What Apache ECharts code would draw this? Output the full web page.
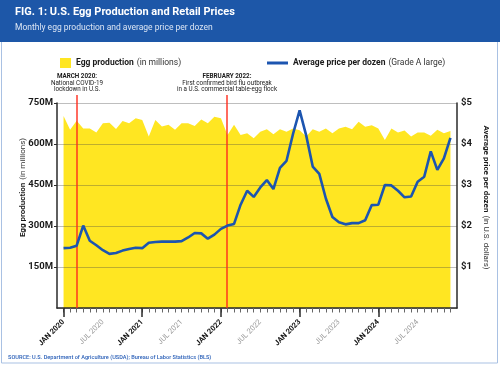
<!DOCTYPE html>
<html><head><meta charset="utf-8">
<script src="https://cdn.jsdelivr.net/npm/echarts@6/dist/echarts.min.js"></script>
<style>html,body{margin:0;padding:0;background:#fff}#c{width:500px;height:367px}</style>
</head><body><div id="c"></div>
<script>
const YEARS = ['2020', '2021', '2022', '2023', '2024'];
const MONTHS = ['JAN', 'FEB', 'MAR', 'APR', 'MAY', 'JUN', 'JUL', 'AUG', 'SEP', 'OCT', 'NOV', 'DEC'];
// Monthly egg production (millions)
const PRODUCTION_M = [
  702, 652, 685, 657, 657, 642, 676, 678, 655, 684, 676, 694,
  688, 627, 688, 664, 670, 652, 676, 676, 666, 690, 676, 700,
  694, 633, 670, 633, 639, 621, 645, 654, 636, 654, 645, 657,
  650, 627, 654, 645, 657, 639, 657, 663, 654, 681, 663, 669,
  657, 615, 657, 642, 649, 627, 642, 642, 630, 652, 639, 648
];
// Average price per dozen, Grade A large (USD)
const PRICE_USD = [
  1.46, 1.47, 1.52, 2.01, 1.64, 1.53, 1.41, 1.32, 1.34, 1.40, 1.44, 1.47,
  1.46, 1.59, 1.61, 1.62, 1.62, 1.62, 1.63, 1.72, 1.83, 1.82, 1.69, 1.79,
  1.93, 2.01, 2.05, 2.52, 2.86, 2.71, 2.94, 3.12, 2.90, 3.42, 3.59, 4.25,
  4.82, 4.21, 3.45, 3.27, 2.67, 2.22, 2.09, 2.04, 2.07, 2.07, 2.14, 2.51,
  2.52, 3.00, 2.99, 2.86, 2.70, 2.72, 3.08, 3.20, 3.82, 3.37, 3.65, 4.15
];
const LEFT_AXIS = { min: 0, max: 750, step: 150 };
const RIGHT_AXIS = { min: 0, max: 5, step: 1 };
const EVENTS = [
  { month: 'MAR 2020', title: 'MARCH 2020:', lines: ['National COVID-19', 'lockdown in U.S.'] },
  { month: 'FEB 2022', title: 'FEBRUARY 2022:', lines: ['First confirmed bird flu outbreak', 'in a U.S. commercial table-egg flock'] }
];

const MONTH_LABELS = YEARS.flatMap(y => MONTHS.map(m => m + ' ' + y));
const CATS = [''].concat(MONTH_LABELS, [' ']);
const pad = arr => [null].concat(arr, [null]);

const FONT = 'Roboto';
const YELLOW = '#ffe622';
const BLUE = '#1c55b0';
const RED = '#ff2b1c';

const chart = echarts.init(document.getElementById('c'), null, { renderer: 'canvas' });

const xBase = {
  type: 'category', data: CATS, boundaryGap: false, gridIndex: 0, position: 'bottom', z: 3
};
const legendRich = {
  b: { fontWeight: 'bold', fontSize: 8.5, color: '#1a1a1a', fontFamily: FONT },
  r: { fontSize: 8.5, color: '#333', fontFamily: FONT }
};

const baseGraphic = [
  { type: 'rect', shape: { x: 1.5, y: 0.5, width: 496, height: 362.5 }, style: { fill: 'none', stroke: '#a9c1e3', lineWidth: 1 }, z: 0 },
  { type: 'rect', shape: { x: 0, y: 0, width: 500, height: 42 }, style: { fill: '#1d57a8' }, z: 1 },
  { type: 'text', left: 15, top: 7, style: { text: 'FIG. 1: U.S. Egg Production and Retail Prices', fill: '#fff', font: 'bold 11px Roboto' }, z: 2 },
  { type: 'text', left: 15, top: 23, style: { text: 'Monthly egg production and average price per dozen', fill: '#dbe5f4', font: '8.5px Roboto' }, z: 2 },
  { type: 'text', left: 8, top: 354.5, style: { text: 'SOURCE: U.S. Department of Agriculture (USDA); Bureau of Labor Statistics (BLS)', fill: '#2b60b8', font: '500 5.6px Roboto' }, z: 2 }
];

chart.setOption({
  animation: false,
  backgroundColor: '#fff',
  textStyle: { fontFamily: FONT },
  graphic: baseGraphic,
  legend: [
    {
      data: ['Egg production'], left: 55, top: 52, icon: 'rect', itemWidth: 11, itemHeight: 10,
      selectedMode: false,
      formatter: n => '{b|' + n + '} {r|(in millions)}',
      textStyle: { fontFamily: FONT, rich: legendRich }
    },
    {
      data: ['Average price per dozen'], left: 262, top: 52, icon: 'rect', itemWidth: 21, itemHeight: 3,
      selectedMode: false,
      formatter: n => '{b|' + n + '} {r|(Grade A large)}',
      textStyle: { fontFamily: FONT, rich: legendRich }
    }
  ],
  grid: { left: 57, right: 43, top: 103, bottom: 59, containLabel: false, outerBoundsMode: 'none' },
  xAxis: [
    Object.assign({}, xBase, {
      axisLine: { show: true, lineStyle: { color: '#2a2a2a', width: 1.5 } },
      axisTick: { show: true, length: 4.5, interval: (i, v) => v.trim() !== '', lineStyle: { color: '#666', width: 1 } },
      axisLabel: {
        interval: (i, v) => v.startsWith('JAN') || v.startsWith('JUL'),
        rotate: 45, margin: 13, fontFamily: FONT,
        formatter: v => v.startsWith('JAN') ? '{j|' + v + '}' : '{m|' + v + '}',
        rich: {
          j: { fontWeight: 'bold', fontSize: 7.5, color: '#111', fontFamily: FONT },
          m: { fontSize: 7.5, color: '#9a9a9a', fontFamily: FONT }
        }
      },
      splitLine: { show: false }
    }),
    Object.assign({}, xBase, {
      axisLine: { show: false },
      axisTick: { show: true, length: 9, interval: (i, v) => v.startsWith('JAN'), lineStyle: { color: '#2a2a2a', width: 1.5 } },
      axisLabel: { show: false },
      splitLine: { show: false }
    })
  ],
  yAxis: [
    {
      type: 'value', min: LEFT_AXIS.min, max: LEFT_AXIS.max, interval: LEFT_AXIS.step, position: 'left', z: 3,
      axisLine: { show: true, lineStyle: { color: '#2a2a2a', width: 1.5 } },
      axisTick: { show: true, length: 3, lineStyle: { color: '#2a2a2a' } },
      axisLabel: { showMinLabel: false, formatter: v => v + 'M', fontWeight: 'bold', fontSize: 9.5, color: '#1a1a1a', margin: 4, fontFamily: FONT },
      splitLine: { show: true, lineStyle: { color: 'rgba(70,70,70,0.35)', width: 1 } },
      name: '{b|Egg production} {r|(in millions)}', nameLocation: 'middle', nameRotate: 90, nameGap: 28,
      nameMoveOverlap: false,
      nameTextStyle: {
        rich: {
          b: { fontWeight: 'bold', fontSize: 8, color: '#1a1a1a', fontFamily: FONT, padding: [0, 0, 0, 36] },
          r: { fontSize: 8, color: '#333', fontFamily: FONT }
        }
      }
    },
    {
      type: 'value', min: RIGHT_AXIS.min, max: RIGHT_AXIS.max, interval: RIGHT_AXIS.step, position: 'right', z: 3,
      axisLine: { show: true, lineStyle: { color: '#2a2a2a', width: 1.5 } },
      axisTick: { show: false },
      axisLabel: { showMinLabel: false, formatter: v => '$' + v, fontWeight: 'bold', fontSize: 9.5, color: '#1a1a1a', margin: 4, fontFamily: FONT },
      splitLine: { show: false },
      name: '{b|Average price per dozen} {r|(in U.S. dollars)}', nameLocation: 'middle', nameRotate: -90, nameGap: 23,
      nameMoveOverlap: false,
      nameTextStyle: {
        rich: {
          b: { fontWeight: 'bold', fontSize: 8, color: '#1a1a1a', fontFamily: FONT },
          r: { fontSize: 8, color: '#333', fontFamily: FONT, padding: [0, 16, 0, 0] }
        }
      }
    }
  ],
  series: [
    {
      name: 'Egg production', type: 'line', xAxisIndex: 0, yAxisIndex: 0, data: pad(PRODUCTION_M),
      symbol: 'none', lineStyle: { width: 0 }, areaStyle: { color: YELLOW, opacity: 1 }, itemStyle: { color: YELLOW },
      z: 1
    },
    {
      name: 'Average price per dozen', type: 'line', xAxisIndex: 0, yAxisIndex: 1, data: pad(PRICE_USD),
      symbol: 'none', lineStyle: { color: BLUE, width: 2.6 }, itemStyle: { color: BLUE }, z: 6
    }
  ]
});

// Event annotations positioned through the chart's own scales
const evGraphics = [];
EVENTS.forEach(e => {
  const x = Math.round(chart.convertToPixel({ xAxisIndex: 0 }, e.month));
  const yBot = chart.convertToPixel({ yAxisIndex: 0 }, LEFT_AXIS.min);
  const yTop = chart.convertToPixel({ yAxisIndex: 0 }, LEFT_AXIS.max) - 8;
  evGraphics.push({ type: 'line', shape: { x1: x, y1: yTop, x2: x, y2: yBot }, style: { stroke: RED, lineWidth: 1.4 }, z: 5, silent: true });
  evGraphics.push({
    type: 'text', x: x, y: yTop - 2, z: 5, silent: true,
    style: {
      text: ['{t|' + e.title + '}'].concat(e.lines.map(l => '{n|' + l + '}')).join('\n'),
      align: 'center', verticalAlign: 'bottom',
      rich: {
        t: { fontWeight: 'bold', fontSize: 6.3, lineHeight: 6.6, fill: '#1a1a1a', fontFamily: FONT, align: 'center' },
        n: { fontSize: 6.3, lineHeight: 6.6, fill: '#1a1a1a', fontFamily: FONT, align: 'center' }
      }
    }
  });
});
chart.setOption({ graphic: baseGraphic.concat(evGraphics) });
</script>
</body></html>
